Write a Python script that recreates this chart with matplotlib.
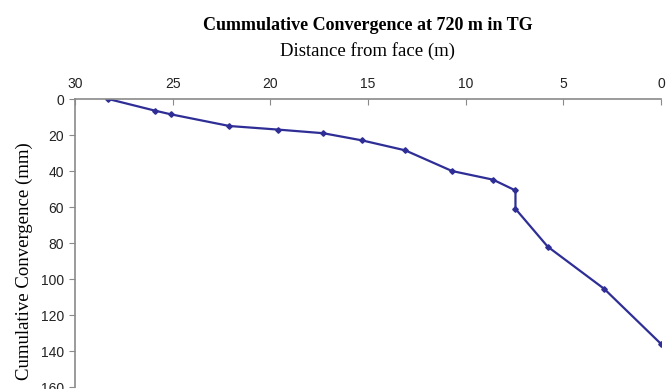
import matplotlib.pyplot as plt

# distance from face (m) vs cumulative convergence (mm)
distance = [28.3, 25.9, 25.1, 22.1, 19.6, 17.3, 15.3, 13.1, 10.7, 8.6, 7.45, 7.45, 5.8, 2.9, 0.0]
convergence = [0, 6.5, 8.5, 15, 17, 19, 23, 28.5, 40, 44.8, 50.8, 61, 82, 105.5, 136]

x_ticks = [30, 25, 20, 15, 10, 5, 0]
y_ticks = [0, 20, 40, 60, 80, 100, 120, 140, 160]

serif = ['Liberation Serif', 'DejaVu Serif']
sans = ['Liberation Sans', 'DejaVu Sans']

fig = plt.figure(figsize=(6.71, 3.89), dpi=100)
ax = fig.add_axes([0.112, 0.005, 0.873, 0.7405])

ax.plot(distance, convergence, color='#2e2e96', linewidth=1.6,
        marker='D', markersize=2.8)

ax.set_xlim(30, 0)
ax.set_ylim(160, 0)
ax.set_xticks(x_ticks)
ax.set_yticks(y_ticks)

ax.xaxis.tick_top()
ax.spines['right'].set_visible(False)
ax.spines['bottom'].set_visible(False)
for s in ['left', 'top']:
    ax.spines[s].set_color('#8a8a8a')
    ax.spines[s].set_linewidth(1.2)

ax.tick_params(axis='x', direction='in', length=4, color='#8a8a8a', pad=6,
               labelsize=10, labelcolor='#222222')
ax.tick_params(axis='y', direction='out', length=4, color='#8a8a8a', pad=4,
               labelsize=10, labelcolor='#222222')
for lab in ax.get_xticklabels() + ax.get_yticklabels():
    lab.set_family(sans)

fig.text(0.548, 0.935, 'Cummulative Convergence at 720 m in TG', ha='center',
         va='center', fontsize=13, fontweight='bold', family=serif)
fig.text(0.548, 0.868, 'Distance from face (m)', ha='center', va='center',
         fontsize=13.5, family=serif)
fig.text(0.036, 0.33, 'Cumulative Convergence (mm)', ha='center', va='center',
         rotation=90, fontsize=13.5, family=serif)

plt.savefig('out.png', dpi=100)
